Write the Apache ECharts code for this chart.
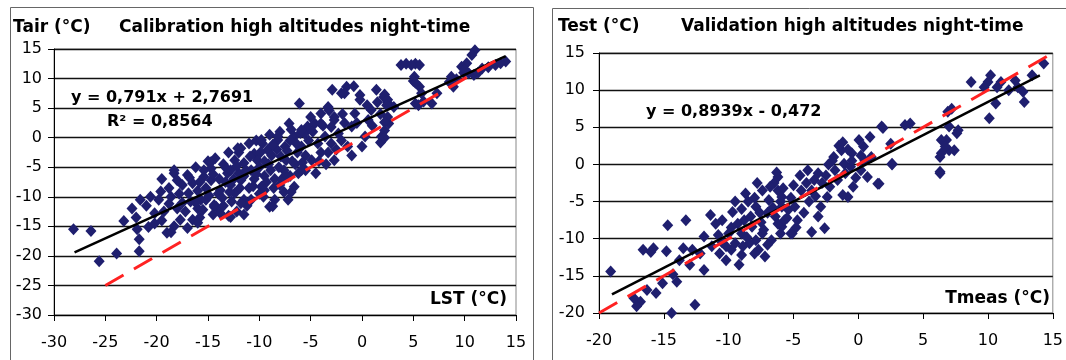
<!DOCTYPE html>
<html>
<head>
<meta charset="utf-8">
<script src="https://cdn.jsdelivr.net/npm/echarts@6/dist/echarts.min.js"></script>
<style>html,body{margin:0;padding:0;background:#fff;}#c{width:1066px;height:360px;}</style>
</head>
<body>
<div id="c"></div>
<script>
// ---- Data ----
const xTicksCal = [-30, 15];   // LST axis range
const yTicksCal = [-30, 15];   // Tair axis range
const xTicksVal = [-20, 15];   // Tmeas axis range
const yTicksVal = [-20, 15];   // Test axis range

const calPoints = [
  [-28.1,-15.5],[-26.4,-15.8],[-25.6,-20.9],[-23.9,-19.6],[-23.2,-14.1],[-22.4,-12.0],[-21.7,-17.2],[-21.7,-19.2],[-21.9,-15.5],[-22.0,-13.5],
  [-21.6,-10.5],[-20.8,-15.1],[-20.6,-10.0],[-21.0,-11.5],[-19.8,-10.5],[-19.6,-9.1],[-19.0,-16.1],[-18.6,-10.0],[-18.3,-6.0],[-18.0,-12.0],[-17.7,-13.9],[-19.3,-12.5],[-20.2,-12.8],[-18.8,-8.5],[-19.5,-14.0],
  [-17.0,-6.3],[-16.9,-9.4],[-16.5,-13.9],[-16.5,-7.7],[-15.7,-10.5],[-15.4,-6.6],[-14.7,-5.2],[-14.4,-11.7],[-17.0,-15.3],[-18.3,-15.0],[-17.5,-11.0],[-16.0,-12.0],[-15.2,-8.5],[-14.7,-7.2],[-14.2,-11.7],[-15.2,-10.5],[-15.4,-5.5],[-16.2,-5.0],[-17.5,-8.0],[-16.0,-9.0],[-14.0,-9.5],[-15.8,-13.5],[-14.5,-13.0],[-17.8,-9.5],[-16.7,-10.8],[-15.0,-4.0],[-14.3,-3.5],
  [-13.8,-8.9],[-13.1,-6.0],[-12.4,-3.8],[-11.8,-1.8],[-11.5,-4.3],[-10.8,-5.5],[-10.5,-2.7],[-10.2,-3.8],[-13.8,-12.8],[-12.4,-9.4],[-11.5,-10.5],[-11.8,-7.2],[-13.0,-13.2],[-12.2,-12.5],[-11.5,-13.0],[-13.5,-4.5],[-12.8,-5.5],[-13.3,-7.5],[-12.0,-6.0],[-11.0,-8.5],[-10.5,-7.0],[-10.0,-9.5],[-12.7,-10.8],[-13.6,-10.2],[-10.8,-10.5],[-12.0,-2.5],[-11.0,-1.0],[-10.3,-0.5],[-13.0,-2.5],[-10.0,-5.0],[-11.5,-6.5],[-12.8,-8.0],
  [-9.7,-1.0],[-9.2,-2.1],[-8.9,-5.5],[-8.5,-10.5],[-9.0,-11.7],[-8.2,-0.4],[-7.9,-3.2],[-7.4,-3.8],[-7.1,2.4],[-6.6,0.2],[-6.1,5.8],[-9.8,-8.3],[-7.6,-5.5],[-6.6,-8.3],[-7.6,-9.2],[-6.9,-9.2],[-8.7,-11.6],[-9.5,-4.0],[-8.5,-7.0],[-7.0,-6.5],[-6.5,-4.5],[-8.0,1.0],[-9.0,0.5],[-6.9,1.4],[-7.5,-1.5],[-8.8,-3.0],[-6.3,-2.5],[-9.5,-6.5],[-8.0,-8.0],[-6.2,-6.0],[-7.2,-10.5],[-8.3,-2.0],
  [-5.9,-1.5],[-5.6,0.7],[-5.3,1.9],[-4.9,-3.8],[-4.6,2.4],[-4.3,-1.0],[-4.0,4.1],[-3.6,0.2],[-3.3,5.2],[-3.0,-1.0],[-2.7,3.0],[-2.7,-3.8],[-2.3,0.7],[-5.5,-5.5],[-4.5,-6.0],[-3.5,-4.5],[-5.0,3.5],[-2.9,8.1],[-3.2,4.6],[-1.9,4.0],[-2.0,7.5],[-4.0,-2.5],[-5.5,-3.0],[-3.0,1.8],[-2.5,-2.0],
  [-1.5,8.6],[-1.4,-1.5],[-1.0,1.9],[-0.7,4.1],[-0.2,7.2],[0.3,0.2],[0.6,3.0],[0.9,4.7],[1.4,8.1],[1.9,0.2],[-0.8,8.7],[-0.2,6.4],[1.8,4.0],[1.8,-0.8],[0.0,-1.5],[-1.0,-3.0],[1.0,2.0],[-0.5,2.5],[0.5,5.5],[1.5,6.0],
  [2.1,6.9],[2.6,2.4],[3.1,5.2],[2.2,7.3],[2.5,5.9],[2.5,6.4],[2.4,5.5],[2.5,3.5],[2.2,2.6],[2.0,0.2],[2.2,1.2],[2.2,0.0],[3.8,12.3],[4.3,12.5],[5.2,12.5],[5.6,12.3],[4.8,12.3],[5.1,10.3],[5.0,9.6],[5.6,8.6],[5.8,7.5],[5.2,5.8],[5.5,5.5],[6.0,6.1],[6.8,5.8],[5.2,9.3],
  [7.3,7.5],[8.7,10.3],[8.9,8.6],[9.7,12.0],[10.2,12.6],[11.0,14.8],[10.7,14.0],[10.9,10.6],[10.4,10.9],[11.7,11.7],[13.0,12.3],[14.0,12.9],[13.5,12.6],[9.9,11.0],[9.2,9.9],[8.5,9.4],[12.3,11.9],[10.0,11.5],[11.3,11.0],
  [-19.5,-7.0],[-18.8,-11.2],[-18.0,-7.2],[-17.2,-12.5],[-16.8,-6.8],[-16.2,-11.0],[-15.8,-7.5],[-15.5,-12.2],[-14.9,-9.8],[-14.5,-6.2],[-13.9,-7.0],[-13.5,-11.5],[-13.2,-5.2],[-12.9,-9.2],[-12.5,-7.0],[-12.2,-4.8],[-11.9,-8.5],[-11.3,-5.5],[-11.2,-11.5],[-10.9,-3.2],[-10.6,-8.2],[-10.3,-6.2],[-9.9,-2.5],[-9.6,-10.0],[-9.3,-7.5],[-9.1,-4.5],[-8.7,-1.2],[-8.6,-8.5],[-8.1,-5.0],[-7.8,-7.0],[-7.3,-2.2],[-7.0,-0.5],[-6.8,-4.0],[-6.4,-1.0],[-6.0,0.8],[-5.8,-4.2],[-5.2,-0.5],[-4.8,1.0],[-4.2,-4.0],[-3.8,2.0],[-3.3,-2.5],[-2.0,-0.5],[-1.7,2.5],
  [-20.2,-14.5],[-18.6,-16.0],[-16.0,-14.4],[-14.4,-11.4],[-12.8,-13.4],[-11.8,-11.1],[-9.5,-8.9],[-7.2,-6.6],[-5.9,-5.5],[-18.3,-5.5],[-14.7,-4.1],[-12.1,-1.8],[-9.8,-0.4],[-8.2,0.2],[-5.9,1.3],[-4.0,2.4],[-2.7,3.5],[-1.7,7.5],[-3.3,5.0]
];
const calFit = [[-28,-19.4],[14,13.8]];
const calRef = [[-25,-25],[13.8,13.8]];

const valPoints = [
  [-19.1,-14.4],[-14.7,-8.2],[-13.3,-7.5],[-16.6,-11.5],[-15.8,-11.3],[-14.8,-11.7],[-13.5,-11.3],[-12.8,-11.5],[-13.8,-12.9],[-14.0,-15.8],[-13.0,-13.5],[-16.8,-18.5],[-17.1,-19.1],[-14.4,-20.0],[-12.6,-18.9],[-15.6,-17.3],[-16.3,-16.9],[-15.1,-16.0],[-11.9,-9.7],[-11.9,-14.2],[-11.4,-6.8],[-11.0,-8.0],[-17.3,-18.0],[-14.3,-14.8],[-16.0,-11.8],[-12.2,-12.0],
  [-8.7,-3.9],[-9.7,-6.4],[-9.0,-9.3],[-9.2,-13.5],[-10.2,-12.9],[-10.7,-12.0],[-7.4,-3.5],[-6.9,-4.8],[-7.9,-5.7],[-6.4,-7.0],[-5.9,-8.4],[-7.4,-9.3],[-8.4,-10.6],[-7.7,-11.5],[-7.2,-12.4],[-8.2,-8.4],[-9.5,-10.6],[-10.0,-9.3],[-5.4,-6.1],[-5.1,-9.3],[-6.0,-9.3],[-6.7,-10.2],[-9.8,-11.5],[-8.8,-7.5],[-7.0,-6.5],[-6.0,-5.0],[-8.5,-5.0],[-9.3,-8.0],[-10.5,-10.5],[-10.5,-7.5],[-8.0,-12.0],[-6.5,-2.5],[-7.8,-2.5],[-8.3,-7.0],[-7.5,-7.8],[-6.2,-3.5],[-10.2,-11.0],[-9.0,-12.2],[-7.0,-10.8],
  [-9.5,-5.0],[-9.0,-6.0],[-8.6,-9.8],[-8.0,-4.5],[-7.6,-6.5],[-7.3,-8.8],[-6.8,-3.0],[-6.6,-5.8],[-6.2,-8.0],[-5.8,-3.2],[-5.5,-7.2],[-5.2,-4.5],[-4.8,-8.5],[-4.2,-6.5],[-3.8,-5.0],[-8.9,-11.0],[-9.8,-8.5],[-10.8,-9.5],[-11.3,-11.0],[-7.9,-10.2],
  [1.8,5.1],[4.0,5.5],[3.6,5.3],[6.4,3.3],[6.3,1.0],[6.3,-1.0],[0.9,3.7],[0.4,2.4],[0.05,3.3],[2.5,2.8],[2.6,0.1],[1.5,-2.6],[-1.3,1.9],[-1.1,0.1],[-0.6,-0.3],[0.2,-0.8],[0.7,-1.7],[-1.9,1.0],[-1.6,-2.1],[-0.8,-4.4],[-2.4,-4.4],[-3.1,-1.2],[-3.4,-2.1],[-3.9,-0.8],[-3.6,-3.5],[-2.9,-5.7],[-3.1,-7.0],[-2.6,-8.6],[-3.6,-9.1],[-4.9,-5.7],[-5.9,-5.7],[-5.7,-7.5],[-4.7,-7.5],[-5.2,-9.3],[-6.2,-1.7],[-5.9,-4.4],[-4.4,-3.5],[1.6,-2.6],[-0.4,-3.0],[-1.2,-4.1],[-2.0,0.5],[-1.5,2.5],[-0.5,1.5],[0.5,0.5],[-2.5,-1.5],[-4.5,-1.5],[-5.0,-2.8],[-2.2,-3.0],[1.0,1.0],[-0.2,-1.8],
  [-1.8,-0.8],[-1.0,-1.2],[-0.5,0.5],[-2.8,-2.5],[-2.3,0.0],[0.2,1.2],[-1.2,3.0],[-0.8,2.0],[-3.3,-4.3],[-4.0,-2.5],
  [8.7,11.1],[10.2,12.0],[10.0,11.1],[9.7,10.4],[10.6,8.2],[10.1,6.2],[11.0,11.1],[11.6,10.0],[12.3,10.4],[12.7,9.8],[12.8,8.4],[13.4,12.0],[14.3,13.6],[6.9,7.1],[7.2,7.5],[7.0,5.1],[7.6,4.2],[6.8,3.3],[6.4,1.5],[7.0,1.9],[7.4,1.9],[6.3,-1.2],[6.7,2.4],[7.7,4.6],[10.7,10.4],[12.1,11.3],[2.6,0.0],[1.9,4.9],[-6.3,-1.1]
];
const valFit = [[-19,-17.5],[14,12.0]];
const valRef = [[-20,-20],[15,15]];

// ---- Chart ----
const FONT = 'DejaVu Sans';
const NAVY = '#1f1f6f';
const chart = echarts.init(document.getElementById('c'), null, {renderer: 'canvas'});

function xAx(gi, r) {
  return {
    gridIndex: gi, type: 'value', min: r[0], max: r[1], interval: 5,
    axisLine: {show: true, onZero: false, lineStyle: {color: '#000', width: 1}},
    axisTick: {show: true, length: 6, lineStyle: {color: '#000'}},
    axisLabel: {fontFamily: FONT, fontSize: 16, color: '#000', margin: 20},
    splitLine: {show: false}
  };
}
function yAx(gi, r, m) {
  return {
    gridIndex: gi, type: 'value', min: r[0], max: r[1], interval: 5,
    axisLine: {show: true, onZero: false, lineStyle: {color: '#000', width: 1}},
    axisTick: {show: true, length: 6, lineStyle: {color: '#000'}},
    axisLabel: {fontFamily: FONT, fontSize: 16, color: '#000', margin: m},
    splitLine: {show: true, lineStyle: {color: '#111', width: 1.3}}
  };
}
function boldText(t, x, y, align, size) {
  return {type: 'text', x: x, y: y, z: 100, style: {text: t, fill: '#000', font: 'bold ' + (size || 17) + 'px "' + FONT + '"', textAlign: align || 'left', textVerticalAlign: 'middle'}};
}

const option = {
  animation: false,
  backgroundColor: '#fff',
  grid: [
    {left: 54, right: 550, top: 49, bottom: 45, show: true, borderColor: '#888', borderWidth: 1},
    {left: 599, right: 8, top: 53, bottom: 47, show: true, borderColor: '#888', borderWidth: 1}
  ],
  xAxis: [xAx(0, xTicksCal), xAx(1, xTicksVal)],
  yAxis: [yAx(0, yTicksCal, 12), yAx(1, yTicksVal, 14)],
  series: [
    {type: 'scatter', xAxisIndex: 0, yAxisIndex: 0, data: calPoints, symbol: 'diamond', symbolSize: [11, 12], itemStyle: {color: NAVY, opacity: 1}, z: 2},
    {type: 'line', xAxisIndex: 0, yAxisIndex: 0, data: calFit, symbol: 'none', lineStyle: {color: '#000', width: 2.5}, z: 3},
    {type: 'line', xAxisIndex: 0, yAxisIndex: 0, data: calRef, symbol: 'none', lineStyle: {color: '#ff2222', width: 3, type: [21, 12]}, z: 4},
    {type: 'scatter', xAxisIndex: 1, yAxisIndex: 1, data: valPoints, symbol: 'diamond', symbolSize: [11, 12], itemStyle: {color: NAVY, opacity: 1}, z: 2},
    {type: 'line', xAxisIndex: 1, yAxisIndex: 1, data: valFit, symbol: 'none', lineStyle: {color: '#000', width: 2.5}, z: 3},
    {type: 'line', xAxisIndex: 1, yAxisIndex: 1, data: valRef, symbol: 'none', lineStyle: {color: '#ff2222', width: 3, type: [21, 12]}, z: 4}
  ],
  graphic: [
    {type: 'rect', shape: {x: 10.5, y: 7.5, width: 523, height: 360}, style: {fill: 'none', stroke: '#666', lineWidth: 1}, z: -10},
    {type: 'rect', shape: {x: 552.5, y: 8.5, width: 520, height: 360}, style: {fill: 'none', stroke: '#666', lineWidth: 1}, z: -10},
    boldText('Tair (°C)', 13, 28),
    boldText('Calibration high altitudes night-time', 119, 28),
    boldText('Test (°C)', 558, 27),
    boldText('Validation high altitudes night-time', 681, 27),
    boldText('y = 0,791x + 2,7691', 71, 98, 'left', 16),
    boldText('R² = 0,8564', 107, 122, 'left', 16),
    boldText('y = 0,8939x - 0,472', 646, 112, 'left', 16),
    boldText('LST (°C)', 507, 300, 'right'),
    boldText('Tmeas (°C)', 1050, 299, 'right')
  ]
};
chart.setOption(option);
</script>
</body>
</html>
